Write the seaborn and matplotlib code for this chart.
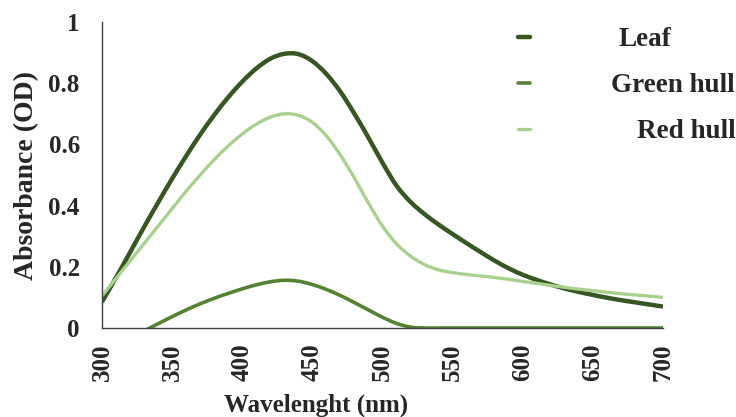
import numpy as np
import pandas as pd
import matplotlib as mpl
import matplotlib.pyplot as plt
import seaborn as sns
from matplotlib.path import Path
from matplotlib.patches import PathPatch
from matplotlib.transforms import Affine2D
mpl.use('agg')

# wavelength grid (nm)
wavelength = list(range(300, 701, 10))

leaf = [0.085, 0.165, 0.247, 0.33, 0.41, 0.488, 0.562, 0.632, 0.696, 0.754,
        0.805, 0.848, 0.88, 0.896, 0.895, 0.872, 0.83, 0.772, 0.70, 0.622,
        0.54, 0.465, 0.412, 0.372, 0.338, 0.307, 0.277, 0.248, 0.22, 0.195,
        0.174, 0.157, 0.142, 0.129, 0.118, 0.108, 0.099, 0.091, 0.084, 0.077,
        0.07]

green_hull = [-0.085, -0.06, -0.035, -0.01, 0.014, 0.037, 0.059, 0.079, 0.097, 0.113,
              0.128, 0.141, 0.151, 0.156, 0.153, 0.142, 0.126, 0.106, 0.083, 0.059,
              0.035, 0.015, 0.003, 0.0, 0.0, 0.0, 0.0, 0.0, 0.0, 0.0,
              0.0, 0.0, 0.0, 0.0, 0.0, 0.0, 0.0, 0.0, 0.0, 0.0,
              0.0]

red_hull = [0.105, 0.162, 0.219, 0.276, 0.333, 0.39, 0.447, 0.50, 0.55, 0.595,
            0.634, 0.666, 0.689, 0.70, 0.695, 0.672, 0.628, 0.565, 0.49, 0.408,
            0.333, 0.275, 0.235, 0.207, 0.19, 0.181, 0.175, 0.17, 0.165, 0.159,
            0.152, 0.146, 0.139, 0.133, 0.127, 0.122, 0.117, 0.112, 0.108, 0.104,
            0.10]

series = {'Leaf': leaf, 'Green hull': green_hull, 'Red hull': red_hull}
colors = {'Leaf': '#375623', 'Green hull': '#548235', 'Red hull': '#A9D18E'}
widths = {'Leaf': 3.2, 'Green hull': 2.6, 'Red hull': 2.4}


def smooth_path(x, y):
    # excel-style "smoothed line": catmull-rom through the data points
    pts = np.column_stack([x, y]).astype(float)
    verts = [pts[0]]
    codes = [Path.MOVETO]
    n = len(pts)
    for i in range(n - 1):
        p0 = pts[i - 1] if i > 0 else pts[i]
        p1, p2 = pts[i], pts[i + 1]
        p3 = pts[i + 2] if i + 2 < n else pts[i + 1]
        verts += [p1 + (p2 - p0) / 6, p2 - (p3 - p1) / 6, p2]
        codes += [Path.CURVE4] * 3
    return Path(verts, codes)


sns.set_style('white')
plt.rcParams['font.family'] = ['Liberation Serif', 'DejaVu Serif']
plt.rcParams['font.weight'] = 'bold'

fig = plt.figure(figsize=(7.36, 4.17), dpi=100)
ax = fig.add_axes([102/736, 1-328/417, (663-102)/736, (328-22)/417])

lines = []
for name, vals in series.items():
    df = pd.DataFrame({'wl': wavelength, 'abs': vals})
    sns.lineplot(data=df, x='wl', y='abs', color=colors[name], lw=widths[name],
                 label=name, ax=ax)
    lines.append((ax.lines[-1], name, vals))

ax.set_xlim(300, 700)
ax.set_ylim(0, 1)
ax.set_xticks(range(300, 701, 50))
ax.set_yticks([0, 0.2, 0.4, 0.6, 0.8, 1])
ax.set_yticklabels(['0', '0.2', '0.4', '0.6', '0.8', '1'])
ax.tick_params(axis='x', length=0, pad=11, labelsize=18, rotation=90)
ax.tick_params(axis='y', length=0, pad=16, labelsize=18)
for lab in ax.get_xticklabels() + ax.get_yticklabels():
    lab.set_fontweight('bold')

ax.set_xlabel('Wavelenght (nm)', fontsize=18, fontweight='bold')
ax.xaxis.set_label_coords(0.381, -0.214)
ax.set_ylabel('Absorbance (OD)', fontsize=20, fontweight='bold', labelpad=7)

for side in ['top', 'right']:
    ax.spines[side].set_visible(False)
for side in ['left', 'bottom']:
    ax.spines[side].set_color('#404040')
    ax.spines[side].set_linewidth(1.0)

leg = ax.legend(loc='upper left', bbox_to_anchor=(518/736, 1-27/417),
                bbox_transform=fig.transFigure, frameon=False, fontsize=19.5,
                handlelength=0.45, handletextpad=2.9, labelspacing=0.78,
                borderpad=0, borderaxespad=0)
for t in leg.get_texts():
    t.set_fontweight('bold')
# nudge labels to where they sit in the original legend
shifts = {'Leaf': 10, 'Green hull': 2, 'Red hull': 28}
for t in leg.get_texts():
    dx = shifts[t.get_text()]
    t.set_transform(t.get_transform() + Affine2D().translate(dx, 0))

# swap the straight segments for smoothed curves (legend keeps its handles)
for line, name, vals in lines:
    line.set_visible(False)
    ax.add_patch(PathPatch(smooth_path(wavelength, vals), fill=False,
                           edgecolor=colors[name], lw=widths[name],
                           capstyle='butt', joinstyle='round'))

plt.savefig('out.png', dpi=100)
